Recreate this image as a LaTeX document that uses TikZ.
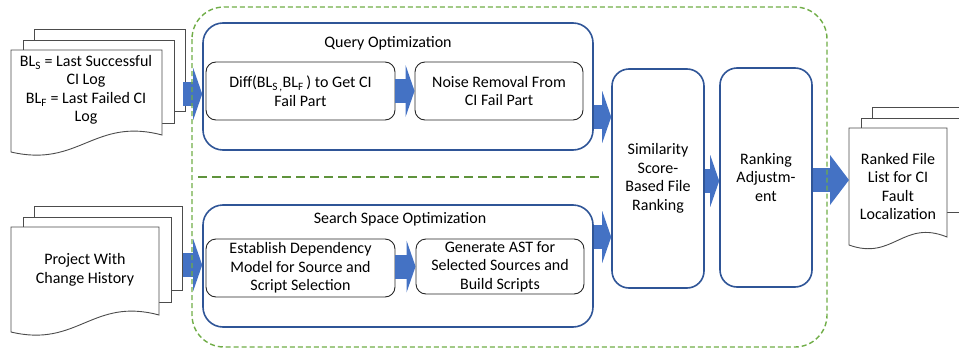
\documentclass[tikz,border=0pt]{standalone}
\usepackage{fontspec}
\setmainfont{Carlito}
\usetikzlibrary{arrows.meta}

\definecolor{boxblue}{HTML}{2F5597}
\definecolor{arrowblue}{HTML}{4472C4}
\definecolor{groupgreen}{HTML}{70AD47}

\tikzset{
  stage/.style={draw=boxblue, line width=1.6pt, rounded corners=20pt, inner sep=0pt},
  rankbox/.style={draw=boxblue, line width=1.6pt, rounded corners=17pt, inner sep=0pt, align=center},
  task/.style={draw=black!85, line width=0.9pt, rounded corners=10pt, inner sep=0pt, align=center},
  txt/.style={inner sep=0pt, align=center},
  page/.style={draw=black!70, line width=0.9pt, fill=white},
  blockarrow/.style={draw=arrowblue, line width=24pt, -{Triangle[length=9pt,width=52pt,line width=0pt]}},
  grouping/.style={draw=groupgreen, line width=1.4pt, dash pattern=on 5pt off 3pt, rounded corners=32pt},
  groupsep/.style={draw=groupgreen!85!black, line width=2.6pt, dash pattern=on 9pt off 5pt},
}

% left, top, width, height at left, height at right
\newcommand{\docpages}[5]{%
  \draw[page] (#1+23,#2-21) rectangle (#1+#3+23,#2+0.6*#4);
  \draw[page] (#1+12,#2-10) rectangle (#1+#3+12,#2+0.72*#4);
  \draw[page] (#1,#2) -- (#1+#3,#2) -- (#1+#3,#2+#5)
    .. controls (#1+0.55*#3,#2+#5-18) and (#1+0.45*#3,#2+#4+16) .. (#1,#2+#4) -- cycle;
}

\begin{document}
\begin{tikzpicture}[x=1pt, y=-1pt, font=\fontsize{16}{18.5}\selectfont]
  \useasboundingbox (0,0) rectangle (959,351);

  % input and output documents
  \docpages{11}{50}{151}{102}{85}
  \docpages{11}{227}{148}{105}{88}
  \docpages{849}{128}{98}{117}{109}
  \node[txt] (logs) at (86,90) {BL\textsubscript{S} = Last Successful\\CI Log\\BL\textsubscript{F} = Last Failed CI\\Log};
  \node[txt] (project) at (85,270) {Project With\\Change History};
  \node[txt] (ranked) at (898,186.5) {Ranked File\\List for CI\\Fault\\Localization};
  \coordinate (logs-out) at (183,94);
  \coordinate (project-out) at (183,265);
  \coordinate (ranked-in) at (849,180);

  % query optimization
  \node[stage, minimum width=390pt, minimum height=127pt] (query) at (398,86.5) {};
  \node[txt] (query-title) at (388,43) {Query Optimization};
  \node[task, minimum width=189pt, minimum height=58pt] (diff) at (300.5,91)
    {Diff(BL\textsubscript{S\,,}BL\textsubscript{F}\,) to Get CI\\Fail Part};
  \node[task, minimum width=168pt, minimum height=58pt] (noise) at (499,91)
    {Noise Removal From\\CI Fail Part};

  % search space optimization
  \node[stage, minimum width=390pt, minimum height=122pt] (search) at (398,266) {};
  \node[txt] (search-title) at (400,219) {Search Space Optimization};
  \node[task, minimum width=189pt, minimum height=58pt] (depend) at (300.5,268)
    {Establish Dependency\\Model for Source and\\Script Selection};
  \node[task, minimum width=168pt, minimum height=55pt] (ast) at (500,266.5)
    {Generate AST for\\Selected Sources and\\Build Scripts};

  % ranking
  \node[rankbox, minimum width=92pt, minimum height=219pt] (sim) at (658,178.5)
    {Similarity\\Score-\\Based File\\Ranking};
  \node[rankbox, minimum width=92pt, minimum height=219pt] (rank) at (766,177.5)
    {Ranking\\Adjustm-\\ent};

  % block arrows
  \draw[blockarrow] (logs-out) -- (logs-out -| query.west);
  \draw[blockarrow] (project-out) -- (project-out -| search.west);
  \draw[blockarrow] (diff.east) -- (noise.west);
  \draw[blockarrow] (depend.east |- ast.east) -- (ast.west);
  \draw[blockarrow] (query.east |- 0,117) -- (sim.west |- 0,117);
  \draw[blockarrow] (search.east |- 0,237) -- (sim.west |- 0,237);
  \draw[blockarrow] (sim.east |- 0,181) -- (rank.west |- 0,181);
  \draw[blockarrow, -{Triangle[length=19pt,width=50pt,line width=0pt]}] (rank.east |- ranked-in) -- (ranked-in);

  % grouping
  \draw[grouping] (192,7) rectangle (827,347);
  \draw[groupsep] (198,177) -- (603,177);
\end{tikzpicture}
\end{document}
